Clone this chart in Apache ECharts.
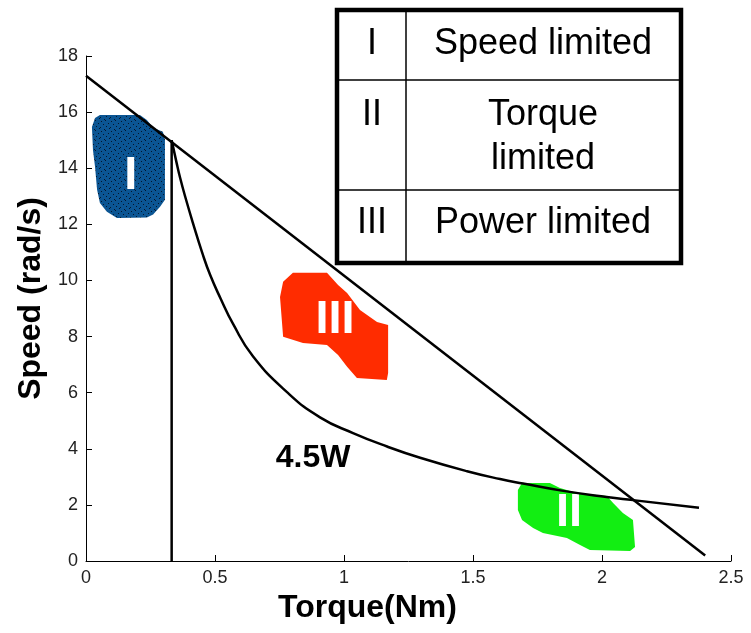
<!DOCTYPE html>
<html>
<head>
<meta charset="utf-8">
<script src="https://cdn.jsdelivr.net/npm/echarts@6/dist/echarts.min.js"></script>
<style>
  html, body { margin: 0; padding: 0; background: #fff; }
  #chart { width: 751px; height: 633px; }
</style>
</head>
<body>
<div id="chart"></div>
<script>
// Axis ticks
const xTicks = [0, 0.5, 1, 1.5, 2, 2.5];
const yTicks = [0, 2, 4, 6, 8, 10, 12, 14, 16, 18];

// Operating limits: torque (Nm) vs speed (rad/s)
const speedLimitLine = [[0, 17.3], [2.4, 0.2]];
const torqueLimitLine = [[0.332, 0], [0.332, 15.0]];
const powerCurve = [
  [0.332, 15.0], [0.351, 14.2], [0.365, 13.65], [0.384, 13.0], [0.416, 12.0],
  [0.45, 11.0], [0.481, 10.2], [0.522, 9.35], [0.570, 8.45], [0.647, 7.3],
  [0.779, 6.02], [0.907, 5.12], [1.035, 4.56], [1.167, 4.08], [1.295, 3.68],
  [1.477, 3.2], [1.605, 2.92], [1.694, 2.76], [1.85, 2.5], [2.018, 2.28],
  [2.12, 2.17], [2.376, 1.9]
];
const powerLabel = { text: '4.5W', at: [0.88, 3.68] };

// Region outlines (torque, speed)
const regionIOutline = [
  [0.054, 15.90], [0.209, 15.90], [0.236, 15.72], [0.260, 15.44], [0.298, 15.30],
  [0.306, 15.02], [0.306, 12.88], [0.287, 12.63], [0.260, 12.35], [0.236, 12.24],
  [0.120, 12.23], [0.081, 12.45], [0.054, 12.76], [0.043, 13.23], [0.035, 14.05],
  [0.027, 14.65], [0.023, 15.47], [0.035, 15.79]
];
const regionIIOutline = [
  [1.690, 2.78], [1.798, 2.78], [1.837, 2.60], [1.903, 2.42], [2.019, 2.32],
  [2.043, 2.07], [2.081, 1.71], [2.120, 1.46], [2.128, 0.50], [2.109, 0.36],
  [1.953, 0.39], [1.915, 0.57], [1.864, 0.82], [1.771, 1.00], [1.733, 1.18],
  [1.690, 1.46], [1.674, 1.82], [1.674, 2.53]
];
const regionIIIOutline = [
  [0.802, 10.27], [0.934, 10.27], [0.977, 9.84], [1.012, 9.55], [1.062, 8.95],
  [1.128, 8.52], [1.171, 8.41], [1.171, 6.70], [1.166, 6.45], [1.050, 6.52],
  [1.012, 6.92], [0.977, 7.34], [0.934, 7.70], [0.841, 7.77], [0.764, 7.99],
  [0.752, 9.41], [0.764, 9.95]
];
const regionIds = ['I', 'II', 'III'];
const regionNames = ['Speed limited', 'Torque\nlimited', 'Power limited'];
const regionLabelAt = [[0.174, 13.73], [1.872, 1.71], [0.965, 8.59]];

const FONT = '"Liberation Sans", Arial, sans-serif';

// Stippled fill for region I
function stipple() {
  const c = document.createElement('canvas');
  c.width = 10; c.height = 10;
  const g = c.getContext('2d');
  g.fillStyle = '#0b5593';
  g.fillRect(0, 0, 10, 10);
  g.fillStyle = '#04152a';
  [[1, 1], [5, 0], [8, 3], [3, 4], [6, 6], [0, 7], [9, 8], [4, 9]]
    .forEach(p => g.fillRect(p[0], p[1], 1, 1));
  return c;
}

function regionSeries(outline, labelAt, id, fill) {
  return {
    type: 'custom',
    coordinateSystem: 'cartesian2d',
    data: outline,
    z: 1,
    silent: true,
    renderItem: function (params, api) {
      if (params.dataIndex !== 0) return null;
      const pts = outline.map(p => api.coord(p));
      const c = api.coord(labelAt);
      return {
        type: 'group',
        children: [
          { type: 'polygon', shape: { points: pts }, style: { fill: fill, stroke: null } },
          {
            type: 'text', x: c[0], y: c[1],
            style: {
              text: id, fill: '#ffffff', align: 'center', verticalAlign: 'middle',
              font: 'bold 47px ' + FONT
            }
          }
        ]
      };
    }
  };
}

const chart = echarts.init(document.getElementById('chart'), null, { renderer: 'canvas' });

const lineStyle = { color: '#000', width: 2.5 };

const option = {
  backgroundColor: '#fff',
  animation: false,
  grid: { left: 86, right: 20, top: 56, bottom: 72, containLabel: false },
  xAxis: {
    type: 'value', min: 0, max: 2.5, interval: 0.5,
    name: 'Torque(Nm)', nameLocation: 'middle', nameGap: 27,
    nameTextStyle: {
      fontFamily: FONT, fontWeight: 'bold',
      fontSize: 32, color: '#000', padding: [0, 82, 0, 0]
    },
    axisLine: { lineStyle: { color: '#000', width: 1 } },
    axisTick: { inside: true, length: 6, lineStyle: { color: '#000' } },
    axisLabel: {
      margin: 8, fontSize: 18, color: '#222', fontFamily: FONT,
      formatter: v => (xTicks.includes(v) ? String(v) : '')
    },
    splitLine: { show: false }
  },
  yAxis: {
    type: 'value', min: 0, max: 18, interval: 2,
    name: 'Speed (rad/s)', nameLocation: 'middle', nameGap: 39,
    nameTextStyle: {
      fontFamily: FONT, fontWeight: 'bold',
      fontSize: 32, color: '#000', padding: [0, 0, 0, 20]
    },
    axisLine: { show: true, lineStyle: { color: '#000', width: 1 } },
    axisTick: { show: true, inside: true, length: 6, lineStyle: { color: '#000' } },
    axisLabel: {
      margin: 8, fontSize: 18, color: '#222', fontFamily: FONT,
      formatter: v => (yTicks.includes(v) ? String(v) : '')
    },
    splitLine: { show: false }
  },
  series: [
    regionSeries(regionIOutline, regionLabelAt[0], regionIds[0], { image: stipple(), repeat: 'repeat' }),
    regionSeries(regionIIOutline, regionLabelAt[1], regionIds[1], '#12ee12'),
    regionSeries(regionIIIOutline, regionLabelAt[2], regionIds[2], '#ff2c00'),
    { type: 'line', data: speedLimitLine, symbol: 'none', lineStyle: lineStyle, z: 3, silent: true },
    { type: 'line', data: torqueLimitLine, symbol: 'none', lineStyle: lineStyle, z: 3, silent: true },
    { type: 'line', data: powerCurve, symbol: 'none', smooth: 0.5,
      lineStyle: lineStyle, z: 3, silent: true },
    {
      type: 'custom', coordinateSystem: 'cartesian2d', data: [powerLabel.at], z: 4, silent: true,
      renderItem: function (params, api) {
        const c = api.coord([api.value(0), api.value(1)]);
        return {
          type: 'text', x: c[0], y: c[1],
          style: { text: powerLabel.text, fill: '#000', align: 'center', verticalAlign: 'middle',
                   font: 'bold 32px ' + FONT }
        };
      }
    }
  ],
  graphic: [
    {
      type: 'group', z: 100,
      children: [
        { type: 'rect', shape: { x: 337, y: 10, width: 344, height: 253 },
          style: { fill: '#fff', stroke: '#000', lineWidth: 4.5 } },
        { type: 'line', shape: { x1: 406, y1: 12, x2: 406, y2: 261 }, style: { stroke: '#000', lineWidth: 1.5 } },
        { type: 'line', shape: { x1: 339, y1: 80, x2: 679, y2: 80 }, style: { stroke: '#000', lineWidth: 1.5 } },
        { type: 'line', shape: { x1: 339, y1: 190, x2: 679, y2: 190 }, style: { stroke: '#000', lineWidth: 1.5 } },
        ...[44, 115, 223].map((y, i) => ({
          type: 'text', x: 372, y: y,
          style: { text: regionIds[i], align: 'center', verticalAlign: 'middle', fill: '#000',
                   font: '36px ' + FONT }
        })),
        ...[44, 137, 223].map((y, i) => ({
          type: 'text', x: 543, y: y,
          style: { text: regionNames[i], align: 'center', verticalAlign: 'middle', fill: '#000',
                   lineHeight: 44, font: '36px ' + FONT }
        }))
      ]
    }
  ]
};

chart.setOption(option);
</script>
</body>
</html>
